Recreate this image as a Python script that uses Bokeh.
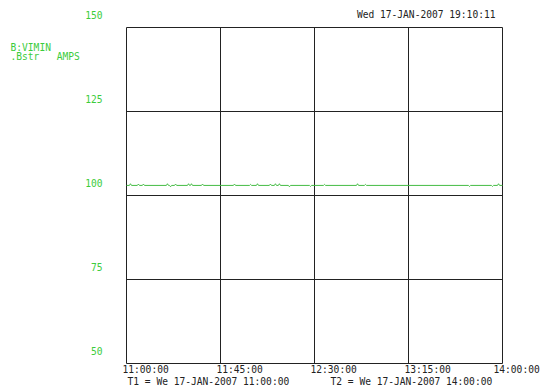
from datetime import datetime, timedelta
from bokeh.plotting import figure
from bokeh.models import Range1d, Label, ColumnDataSource
from bokeh.embed import file_html
from bokeh.resources import INLINE

# ---- data ----
t1 = datetime(2007, 1, 17, 11, 0, 0)
t2 = datetime(2007, 1, 17, 14, 0, 0)
x_tick_labels = ["11:00:00", "11:45:00", "12:30:00", "13:15:00", "14:00:00"]
x_tick_minutes = [0, 45, 90, 135, 180]
y_ticks = [50, 75, 100, 125, 150]
y_tick_labels = ["50", "75", "100", "125", "150"]

sample_minutes = [0, 1.4, 1.9, 2.4, 5.2, 5.7, 6.2, 7.6, 8.1, 8.6, 19.1, 19.6, 20.1,
                  20.6, 21.1, 21.6, 23.0, 23.5, 24.0, 29.2, 29.7, 30.2, 30.6, 31.1,
                  31.6, 35.9, 36.4, 36.9, 51.2, 51.7, 52.2, 58.9, 59.4, 59.9, 62.2,
                  62.7, 63.2, 68.4, 68.9, 69.4, 70.8, 71.3, 71.8, 72.7, 73.2, 73.7,
                  77.5, 78.0, 78.5, 87.6, 88.1, 88.6, 94.3, 94.8, 95.3, 110.1, 110.6,
                  111.1, 113.9, 114.4, 114.9, 163.7, 164.2, 164.7, 174.7, 175.2,
                  175.7, 177.6, 178.1, 178.6, 180]
sample_amps = [103.0, 103.0, 103.5, 103.0, 103.0, 103.4, 103.0, 103.0, 103.4, 103.0,
               103.0, 103.5, 103.0, 103.0, 102.6, 103.0, 103.0, 103.4, 103.0, 103.0,
               103.5, 103.0, 103.0, 103.5, 103.0, 103.0, 103.4, 103.0, 103.0, 103.4,
               103.0, 103.0, 103.3, 103.0, 103.0, 103.5, 103.0, 103.0, 103.4, 103.0,
               103.0, 103.5, 103.0, 103.0, 103.5, 103.0, 103.0, 102.6, 103.0, 103.0,
               102.7, 103.0, 103.0, 103.3, 103.0, 103.0, 103.5, 103.0, 103.0, 103.3,
               103.0, 103.0, 102.7, 103.0, 103.0, 102.7, 103.0, 103.0, 103.5, 103.0,
               103.0]

GREEN_TEXT = "#3ccc3c"
GREEN_LINE = "#44bb44"
INK = "#222222"
FONT = "DejaVu Sans Mono"
FS = "9.6px"
NB = "\u00a0"

# ---- layout (pixels) ----
W, H = 540, 388
LEFT, RIGHT, TOP, BOTTOM = 126, 502, 27, 363

EPOCH = datetime(1970, 1, 1)
def ms(t):
    return (t - EPOCH).total_seconds() * 1000.0

t1_ms, t2_ms = ms(t1), ms(t2)
y0, y1 = y_ticks[0], y_ticks[-1]
x_per_px = (t2_ms - t1_ms) / (RIGHT - LEFT)
y_per_px = (y1 - y0) / (BOTTOM - TOP)
x_range = Range1d(t1_ms - LEFT * x_per_px, t2_ms + (W - RIGHT) * x_per_px)
y_range = Range1d(y0 - (H - BOTTOM) * y_per_px, y1 + TOP * y_per_px)

times = [ms(t1 + timedelta(minutes=m)) for m in sample_minutes]
tick_ms = [ms(t1 + timedelta(minutes=m)) for m in x_tick_minutes]

p = figure(width=W, height=H, output_backend="svg", toolbar_location=None,
           x_range=x_range, y_range=y_range,
           min_border_left=0, min_border_right=0, min_border_top=0, min_border_bottom=0)
p.axis.visible = False
p.grid.visible = False
p.outline_line_color = None
p.background_fill_color = "white"
p.border_fill_color = "white"

# grid box (vertical and horizontal lines at the tick values)
p.segment(x0=tick_ms, x1=tick_ms, y0=[y0] * len(tick_ms), y1=[y1] * len(tick_ms),
          line_color=INK, line_width=1)
p.segment(x0=[t1_ms] * len(y_ticks), x1=[t2_ms] * len(y_ticks), y0=y_ticks, y1=y_ticks,
          line_color=INK, line_width=1)

src = ColumnDataSource(dict(t=times, v=sample_amps))
p.line("t", "v", source=src, line_color=GREEN_LINE, line_width=1)

def lab(x, y, text, color=INK, align="left", xo=0, yo=0):
    p.add_layout(Label(x=x, y=y, text=text, x_offset=xo, y_offset=yo,
                       text_color=color, text_font=FONT, text_font_size=FS,
                       text_align=align, text_baseline="middle"))

for v, t in zip(y_ticks, y_tick_labels):
    lab(t1_ms, v, t, color=GREEN_TEXT, align="right", xo=-24, yo=13)

for i, (tm, t) in enumerate(zip(tick_ms, x_tick_labels)):
    shift = -9 if i == len(tick_ms) - 1 else -4
    lab(tm, y0, t, align="left", xo=shift, yo=-6)

lab(t1_ms, y0, "T1 = We 17-JAN-2007 11:00:00", xo=1, yo=-18)
lab(tick_ms[2], y0, "T2 = We 17-JAN-2007 14:00:00", xo=16, yo=-18)
lab(t2_ms, y1, "Wed 17-JAN-2007 19:10:11", align="right", xo=-7, yo=13)
lab(t1_ms, y1, "B:VIMIN", color=GREEN_TEXT, xo=-116, yo=-20)
lab(t1_ms, y1, ".Bstr" + NB * 3 + "AMPS", color=GREEN_TEXT, xo=-116, yo=-29)

open("out.html", "w").write(file_html(p, INLINE))
